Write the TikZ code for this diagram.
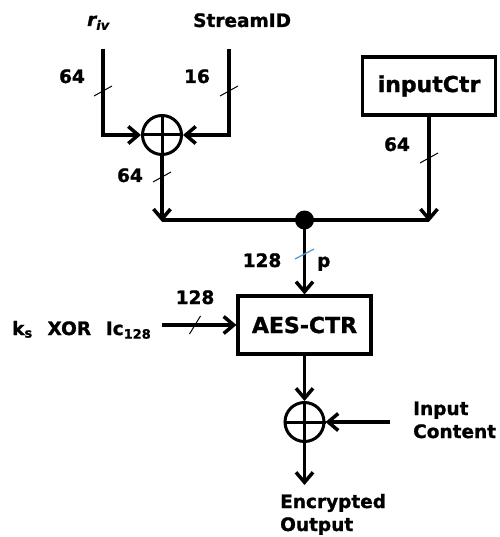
\documentclass[tikz,border=0pt]{standalone}
\usepackage{fontspec}
\setmainfont{DejaVu Sans}[BoldFeatures={FakeBold=1.2},BoldItalicFeatures={FakeBold=1.2}]
\usetikzlibrary{arrows.meta}
\definecolor{tickblue}{RGB}{91,155,213}
\begin{document}
\begin{tikzpicture}[x=1pt,y=-1pt,
  line/.style={line width=3.5pt},
  arr/.style={line width=3.5pt,-{Straight Barb[length=10pt,width=17pt,line width=3.5pt]}},
  tick/.style={line width=1pt},
  lbl/.style={inner sep=0pt,font=\fontsize{18.5}{23}\selectfont\bfseries},
  box/.style={draw,line width=3.2pt,minimum width=133pt,minimum height=58pt,inner sep=0pt,font=\fontsize{22}{26}\selectfont\bfseries},
  xor/.style={draw,circle,line width=3pt,minimum size=39pt,inner sep=0pt},
  dotnode/.style={circle,fill=black,minimum size=19pt,inner sep=0pt}]
\useasboundingbox (0,0) rectangle (499,537);
% top inputs
\node[lbl,anchor=base west] (riv) at (87,26) {\itshape r\textsubscript{iv}};
\node[lbl,anchor=base west] (sid) at (193,27) {StreamID};
\coordinate (lt) at (103,49);
\coordinate (rt) at (229,49);
\node[xor] (x1) at (162,135) {};
\draw[line width=3pt] (x1.north) -- (x1.south) (x1.west) -- (x1.east);
\draw[arr] (lt) |- (x1.west);
\draw[arr] (rt) |- (x1.east);
\draw[tick] (103,91) +(-9,5) -- +(9,-5);
\draw[tick] (229,91) +(-9,5) -- +(9,-5);
\node[lbl,anchor=base] (n64a) at (72,83) {64};
\node[lbl,anchor=base] (n16) at (197,83) {16};
% bus
\coordinate (bl) at (162,220);
\coordinate (br) at (429,220);
\draw[line] (bl) -- (br);
\node[dotnode] (dot) at (304.5,220) {};
\draw[arr] (x1.south) -- ([yshift=-1.75pt]bl);
\draw[tick] (162,177) +(-9,5) -- +(9,-5);
\node[lbl,anchor=base] (n64b) at (130,182) {64};
% inputCtr
\node[box] (ctr) at (429,86) {inputCtr};
\draw[arr] (ctr.south) -- ([yshift=-1.75pt]br);
\draw[tick] (429,158) +(-9,5) -- +(9,-5);
\node[lbl,anchor=base] (n64c) at (397,151) {64};
% AES
\node[box] (aes) at (304.5,325) {AES-CTR};
\draw[arr] (dot.center) -- (aes.north);
\draw[tick,tickblue,line width=1.3pt] (304.5,254) +(-9.5,5) -- +(9.5,-5);
\node[lbl,anchor=base] (n128a) at (262,267) {128};
\node[lbl,anchor=base west] (np) at (317,267) {p};
% key input
\node[lbl,anchor=base west] (ks) at (12,335) {k\textsubscript{s}\hspace{0.8em}XOR\hspace{0.8em}Ic\textsubscript{128}};
\coordinate (kst) at (162,325);
\draw[arr] (kst) -- (aes.west);
\draw[tick] (195,325) +(-5.5,9) -- +(5.5,-9);
\node[lbl,anchor=base] (n128b) at (195,304) {128};
% output xor
\node[xor] (x2) at (304.5,422) {};
\draw[line width=3pt] (x2.north) -- (x2.south) (x2.west) -- (x2.east);
\draw[arr] (aes.south) -- (x2.north);
\coordinate (icst) at (390,422);
\draw[arr] (icst) -- (x2.east);
\node[lbl,anchor=base west,align=left] (ic) at (413,438) {Input\\Content};
\coordinate (out) at (304.5,485);
\draw[arr] (x2.south) -- (out);
\node[lbl,anchor=base west,align=left] (eo) at (280,531) {Encrypted\\Output};
\end{tikzpicture}
\end{document}
